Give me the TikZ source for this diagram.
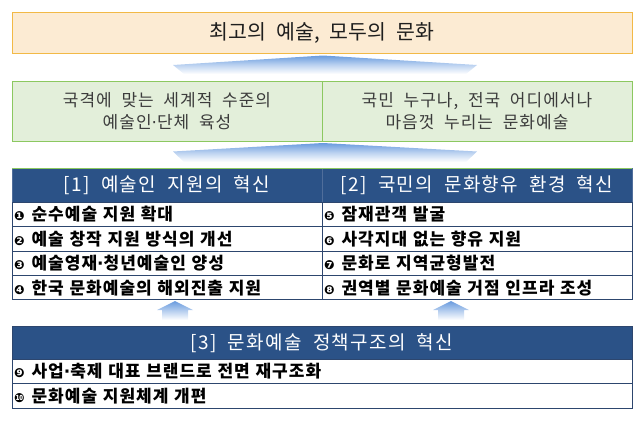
\documentclass[tikz,border=0pt]{standalone}
\usepackage{fontspec}
\newfontfamily\kr[WordSpace=2]{Noto Sans CJK KR}
\newfontfamily\dv{DejaVu Sans}
\definecolor{topfill}{RGB}{252,235,211}
\definecolor{topline}{RGB}{242,185,70}
\definecolor{grnfill}{RGB}{227,239,218}
\definecolor{grnline}{RGB}{140,200,96}
\definecolor{hdrfill}{RGB}{43,82,135}
\definecolor{hdrdiv}{RGB}{80,110,155}
\definecolor{tblline}{RGB}{45,70,110}
\definecolor{arrblue}{RGB}{105,155,222}
\definecolor{txtdark}{RGB}{30,30,30}
\definecolor{txtgray}{RGB}{60,60,60}
\newcommand\kitem[2]{\hspace{-1pt}{\dv\fontsize{12.5}{12.5}\selectfont #1}\hspace{7pt}#2}
\newcommand\mdot{{\dv ·}}
\tikzset{
  base/.style={rectangle, inner sep=0pt, outer sep=0pt, line width=1pt},
  topbox/.style={base, draw=topline, fill=topfill, minimum width=620pt, minimum height=41pt,
    text=txtdark, font={\kr\fontsize{20.5}{22}\selectfont\addfontfeature{LetterSpace=1}}},
  grnbox/.style={base, draw=grnline, fill=grnfill, minimum width=310pt, minimum height=59.3pt,
    align=center, text=txtgray, font={\kr\fontsize{17}{21.5}\selectfont\addfontfeature{LetterSpace=6}}},
  hdrbox/.style={base, draw=hdrdiv, fill=hdrfill, text=white,
    font={\kr\fontsize{19}{22}\selectfont\addfontfeature{LetterSpace=7}}},
  cell/.style={base, draw=tblline, fill=white, minimum height=24.4pt, text width=304pt,
    inner xsep=3pt, align=left, anchor=west, text=black,
    font={\kr\bfseries\fontsize{17}{19}\selectfont\addfontfeature{LetterSpace=6}}},
  bigarrow/.style={top color=arrblue, bottom color=white, middle color=arrblue!45},
  smallarrow/.style={top color=arrblue, bottom color=white, middle color=arrblue!50},
}
\begin{document}
\begin{tikzpicture}[x=1pt,y=-1pt]
\useasboundingbox (0,0) rectangle (643,421);
% top goal
\node[topbox] (goal) at (322,33) {최고의 예술, 모두의 문화};
% arrow 1
\shade[bigarrow] (173,65) -- (323,55.5) -- (477,65) -- (466,74) -- (184,74) -- cycle;
% vision boxes
\node[grnbox] (visL) at (167,111.35) {국격에 맞는 세계적 수준의\\예술인\mdot 단체 육성};
\node[grnbox] (visR) at (477,111.35) {국민 누구나, 전국 어디에서나\\마음껏 누리는 문화예술};
% arrow 2
\shade[bigarrow] (173,151.5) -- (323,143) -- (477,151.5) -- (466,162) -- (184,162) -- cycle;
% headers 1 and 2
\node[hdrbox, minimum width=310pt, minimum height=34.3pt] (h1) at (167,185.15) {[1] 예술인 지원의 혁신};
\node[hdrbox, minimum width=310pt, minimum height=34.3pt] (h2) at (477,185.15) {[2] 국민의 문화향유 환경 혁신};
\draw[grnline, line width=1pt] (h1.north west) -- (h2.north east);
% left column
\node[cell] (a1) at (12,214.5) {\kitem{❶}{순수예술 지원 확대}};
\node[cell] (a2) at (12,238.9) {\kitem{❷}{예술 창작 지원 방식의 개선}};
\node[cell] (a3) at (12,263.3) {\kitem{❸}{예술영재\mdot 청년예술인 양성}};
\node[cell] (a4) at (12,287.7) {\kitem{❹}{한국 문화예술의 해외진출 지원}};
% right column
\node[cell] (b1) at (322,214.5) {\kitem{❺}{잠재관객 발굴}};
\node[cell] (b2) at (322,238.9) {\kitem{❻}{사각지대 없는 향유 지원}};
\node[cell] (b3) at (322,263.3) {\kitem{❼}{문화로 지역균형발전}};
\node[cell] (b4) at (322,287.7) {\kitem{❽}{권역별 문화예술 거점 인프라 조성}};
% small arrows
\shade[smallarrow] (175,301) -- (193,310) -- (188,310) -- (188,320) -- (162,320) -- (162,310) -- (157,310) -- cycle;
\shade[smallarrow] (451,301) -- (469,310) -- (464,310) -- (464,320) -- (438,320) -- (438,310) -- (433,310) -- cycle;
% section 3
\node[hdrbox, draw=tblline, minimum width=620pt, minimum height=32.3pt] (h3) at (322,342.85) {[3] 문화예술 정책구조의 혁신};
\node[cell, text width=614pt] (c1) at (12,371.2) {\kitem{❾}{사업\mdot 축제 대표 브랜드로 전면 재구조화}};
\node[cell, text width=614pt] (c2) at (12,395.8) {\kitem{❿}{문화예술 지원체계 개편}};
\end{tikzpicture}
\end{document}
